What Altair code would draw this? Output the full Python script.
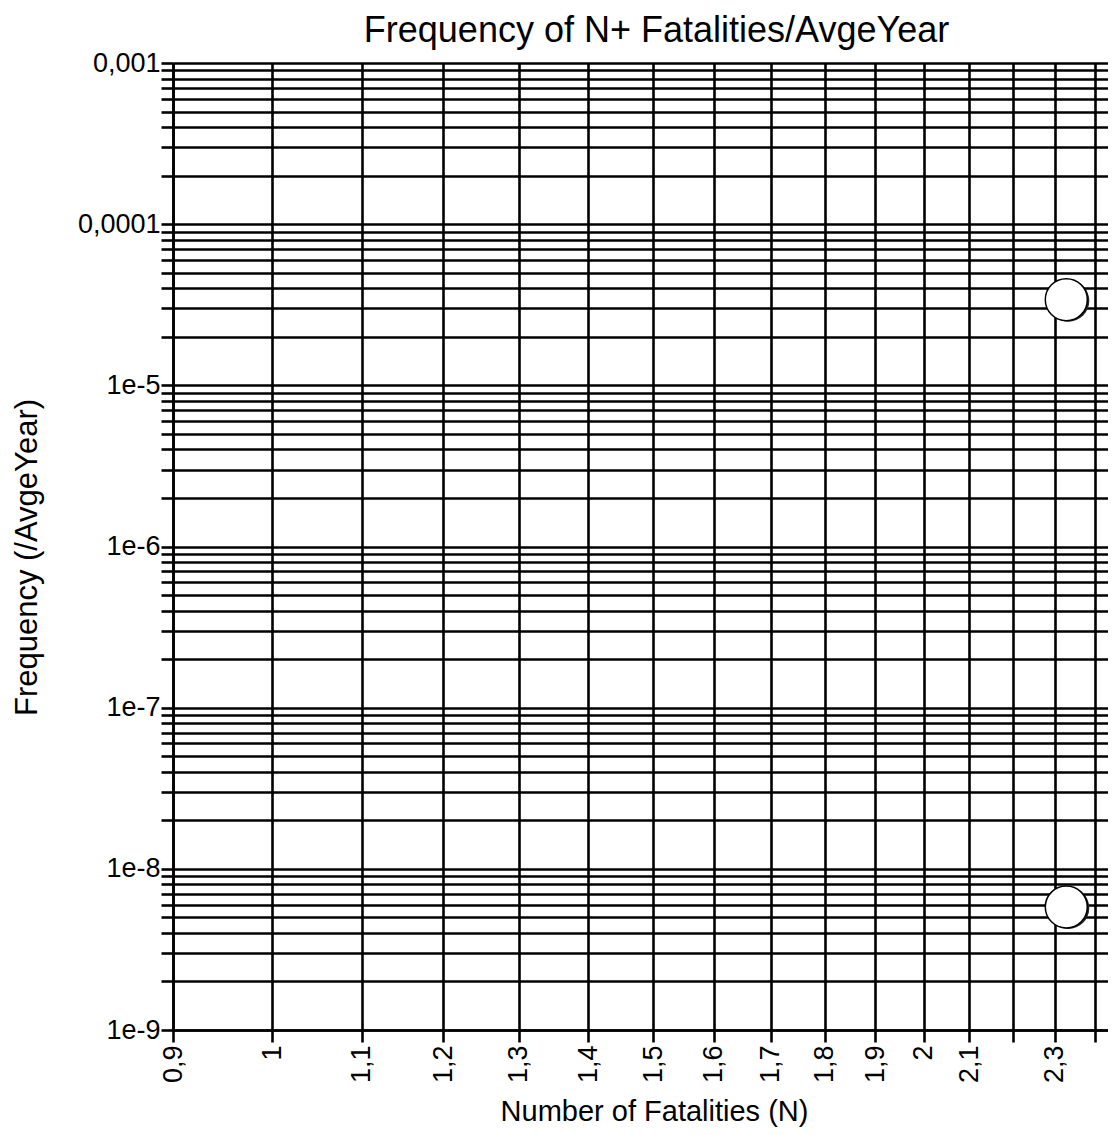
import altair as alt
import pandas as pd

# ---- data ----
n_values = [2.328, 2.328]
freq_values = [3.4e-5, 5.8e-9]

x_tick_values = [0.9, 1.0, 1.1, 1.2, 1.3, 1.4, 1.5, 1.6, 1.7, 1.8, 1.9, 2.0, 2.1, 2.2, 2.3, 2.4]
x_tick_labels = ["0,9", "1", "1,1", "1,2", "1,3", "1,4", "1,5", "1,6", "1,7", "1,8", "1,9", "2", "2,1", "", "2,3", ""]

y_decades = [1e-3, 1e-4, 1e-5, 1e-6, 1e-7, 1e-8, 1e-9]
y_decade_labels = ["0,001", "0,0001", "1e-5", "1e-6", "1e-7", "1e-8", "1e-9"]
y_mantissas = [1, 2, 3, 4, 5, 6, 7, 8, 9]

x_domain = [0.9, 2.4336]
y_domain = [1e-9, 1e-3]

# ---- build tick tables ----
y_tick_values = sorted({round(m * d, 15) for d in y_decades[1:] for m in y_mantissas} | {1e-3})

x_expr = "''"
for v, lab in zip(x_tick_values, x_tick_labels):
    x_expr = f"abs(datum.value - {v}) < 1e-6 ? '{lab}' : ({x_expr})"
y_expr = "''"
for v, lab in zip(y_decades, y_decade_labels):
    y_expr = f"abs(datum.value / {v} - 1) < 1e-6 ? '{lab}' : ({y_expr})"

df = pd.DataFrame({"N": n_values, "F": freq_values})

FONT = "Liberation Sans"
LW = 2.6

x_enc = alt.X(
    "N:Q",
    scale=alt.Scale(type="log", domain=x_domain, nice=False, zero=False),
    axis=alt.Axis(
        values=x_tick_values,
        labelExpr=x_expr,
        labelAngle=-90,
        labelFontSize=27,
        labelFont=FONT,
        labelColor="black",
        labelPadding=3,
        labelOverlap=False,
        labelFlush=False,
        tickSize=12,
        tickWidth=LW,
        tickColor="black",
        domainColor="black",
        domainWidth=LW,
        grid=True,
        gridColor="black",
        gridWidth=LW,
        gridOpacity=1,
        title="Number of Fatalities (N)",
        titleFont=FONT,
        titleFontSize=29,
        titleFontWeight="normal",
        titleColor="black",
        titleX=481,
        titleY=90,
        titleAnchor="middle",
        titleAlign="center",
        titleBaseline="alphabetic",
    ),
)

y_enc = alt.Y(
    "F:Q",
    scale=alt.Scale(type="log", domain=y_domain, nice=False, zero=False),
    axis=alt.Axis(
        values=y_tick_values,
        labelExpr=y_expr,
        labelFontSize=27,
        labelFont=FONT,
        labelColor="black",
        labelPadding=1,
        labelOverlap=False,
        labelFlush=False,
        tickSize=12,
        tickWidth=LW,
        tickColor="black",
        domainColor="black",
        domainWidth=LW,
        grid=True,
        gridColor="black",
        gridWidth=LW,
        gridOpacity=1,
        title="Frequency (/AvgeYear)",
        titleFont=FONT,
        titleFontSize=31,
        titleFontWeight="normal",
        titleColor="black",
        titleAngle=-90,
        titleX=-130,
        titleY=494,
        titleAlign="center",
        titleBaseline="bottom",
    ),
)

shadow = alt.Chart(df).mark_point(
    shape="circle", filled=True, color="#222222", opacity=1, size=1764, clip=True
).encode(x=x_enc, y=y_enc, xOffset=alt.value(2), yOffset=alt.value(1))

dots = alt.Chart(df).mark_point(
    shape="circle", filled=True, fill="white", stroke="black", strokeWidth=1.5,
    opacity=1, size=1764, clip=True
).encode(x="N:Q", y="F:Q")

chart = (
    alt.layer(shadow, dots)
    .properties(
        width=935,
        height=967,
        title=alt.TitleParams(
            "Frequency of N+ Fatalities/AvgeYear",
            font=FONT,
            fontSize=36,
            fontWeight="normal",
            color="black",
            anchor="middle",
            frame="group",
            dx=16,
            dy=6,
            offset=5,
        ),
        autosize=alt.AutoSizeParams(type="none"),
        padding={"left": 165, "top": 55, "right": 0, "bottom": 97},
    )
    .configure_view(stroke=None)
    .configure(background="white")
)

chart.save("out.html", embed_options={"renderer": "svg", "actions": False})
